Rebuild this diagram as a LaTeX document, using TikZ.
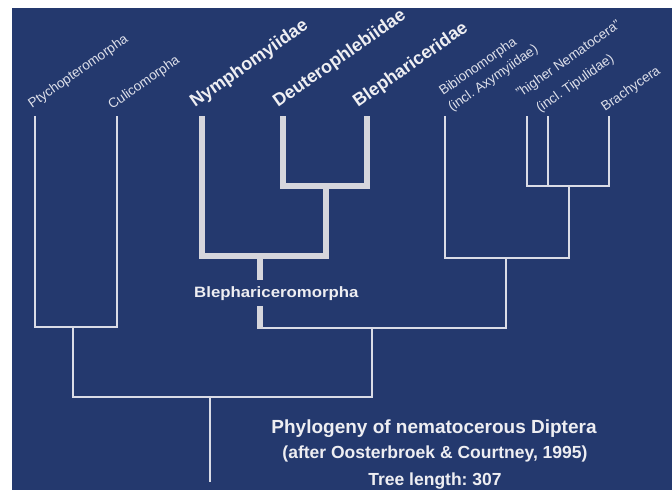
\documentclass[tikz,border=0pt]{standalone}
\usepackage{fontspec}
\setmainfont{Liberation Sans}
\newfontfamily\blfont[FakeStretch=1.12]{Liberation Sans}
\definecolor{bg}{RGB}{36,57,110}
\definecolor{ln}{RGB}{218,220,230}
\definecolor{tk}{RGB}{214,214,220}
\definecolor{tx}{RGB}{222,224,234}
\definecolor{tw}{RGB}{238,238,242}
\begin{document}
\frenchspacing
\begin{tikzpicture}[x=1pt,y=-1pt,
  thinln/.style={draw=ln,line width=1.9pt},
  thickln/.style={draw=tk,line width=5.5pt},
  lab/.style={text=tx,font=\fontsize{13.5}{16}\selectfont,inner sep=0pt,anchor=base west,rotate=35},
  blab/.style={text=tw,font=\fontsize{18}{20}\selectfont\bfseries,inner sep=0pt,anchor=base west,rotate=35},
  ttl/.style={text=tw,inner sep=0pt,anchor=base}]
\useasboundingbox (0,0) rectangle (672,490);
\fill[white] (0,0) rectangle (672,490);
\fill[bg] (12,8) rectangle (672,490);
% tips and internal nodes
\coordinate (tP) at (35,116);
\coordinate (tC) at (117,116);
\coordinate (nPC) at (73,327);
\coordinate (nR) at (210,397);
\coordinate (base) at (210,482);
\coordinate (nBB) at (372,328);
\coordinate (cL) at (260,328);
\coordinate (tBib) at (445,116);
\coordinate (nBib) at (506,258);
\coordinate (tH1) at (527,116);
\coordinate (tH2) at (548,116);
\coordinate (tBr) at (609,116);
\coordinate (nHN) at (569,186);
\coordinate (tNy) at (202,116);
\coordinate (tDe) at (283,116);
\coordinate (tBl) at (367,116);
\coordinate (nDB) at (326,186);
\coordinate (nNDB) at (260,256);
\coordinate (bU) at (260,280);
\coordinate (bL) at (260,306);
% thin branches
\draw[thinln] (tP) |- (nPC) -| (tC);
\draw[thinln] (nPC) |- (nR) -| (nBB);
\draw[thinln] (nR) -- (base);
\draw[thinln] (cL) -| (nBib);
\draw[thinln] (tBib) |- (nBib) -| (nHN);
\draw[thinln] (tH1) |- (nHN) -| (tBr);
\draw[thinln] (tH2) -- (tH2 |- nHN);
% thick Blephariceromorpha branches
\draw[thickln] (tDe) |- (nDB) -| (tBl);
\draw[thickln] (tNy) |- (nNDB) -| (nDB);
\draw[thickln] (nNDB) -- (bU);
\draw[thickln] (bL) -- ([yshift=-0.9pt]cL);
% labels
\node[lab] (lP) at (32,109) {Ptychopteromorpha};
\node[lab] (lC) at (112,110) {Culicomorpha};
\node[blab] (lNy) at (195,108) {Nymphomyiidae};
\node[blab] (lDe) at (278,108) {Deuterophlebiidae};
\node[blab] (lBl) at (358,108) {Blephariceridae};
\node[lab] (lBi1) at (443,96) {Bibionomorpha};
\node[lab] (lBi2) at (452,112) {(incl. Axymyiidae)};
\node[lab] (lH1) at (520,98) {"higher Nematocera"};
\node[lab] (lH2) at (540,113) {(incl. Tipulidae)};
\node[lab] (lBr) at (605,112) {Brachycera};
\node[text=tw,inner sep=0pt,anchor=base west,font=\blfont\fontsize{15}{18}\selectfont\bfseries] (bm) at (194,297) {Blephariceromorpha};
% caption
\node[ttl,font=\fontsize{19}{22}\selectfont\bfseries] (t1) at (434,433) {Phylogeny of nematocerous Diptera};
\node[ttl,font=\fontsize{17.5}{20}\selectfont\bfseries] (t2) at (435,458) {(after Oosterbroek \& Courtney, 1995)};
\node[ttl,font=\fontsize{17.5}{20}\selectfont\bfseries] (t3) at (435,485) {Tree length: 307};
\end{tikzpicture}
\end{document}
